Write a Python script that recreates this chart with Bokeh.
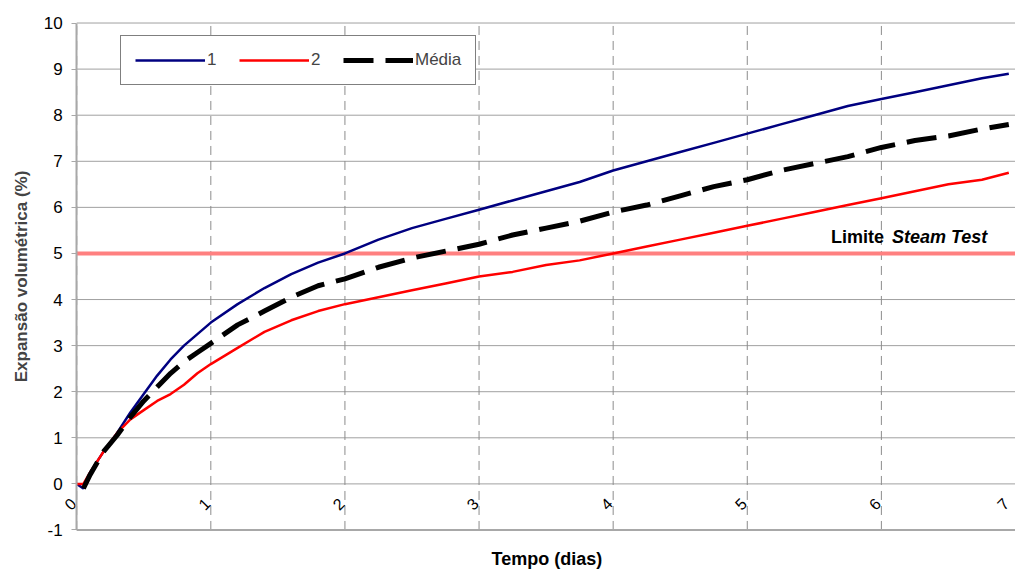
import math
from bokeh.plotting import figure
from bokeh.models import (ColumnDataSource, Label, Legend, LinearAxis, Title,
                          LegendItem, FixedTicker, Range1d)
from bokeh.embed import file_html
from bokeh.resources import INLINE

# ---- data ----
t = [0, 0.05, 0.1, 0.2, 0.3, 0.4, 0.5, 0.6, 0.7, 0.8, 0.9, 1.0, 1.2, 1.4, 1.6,
     1.8, 2.0, 2.25, 2.5, 2.75, 3.0, 3.25, 3.5, 3.75, 4.0, 4.25, 4.5, 4.75,
     5.0, 5.25, 5.5, 5.75, 6.0, 6.25, 6.5, 6.75, 6.95]
serie1 = [0, -0.1, 0.25, 0.7, 1.1, 1.55, 1.95, 2.35, 2.7, 3.0, 3.25, 3.5, 3.9,
          4.25, 4.55, 4.8, 5.0, 5.3, 5.55, 5.75, 5.95, 6.15, 6.35, 6.55, 6.8,
          7.0, 7.2, 7.4, 7.6, 7.8, 8.0, 8.2, 8.35, 8.5, 8.65, 8.8, 8.9]
serie2 = [0, 0.0, 0.25, 0.7, 1.1, 1.4, 1.6, 1.8, 1.95, 2.15, 2.4, 2.6, 2.95,
          3.3, 3.55, 3.75, 3.9, 4.05, 4.2, 4.35, 4.5, 4.6, 4.75, 4.85, 5.0,
          5.15, 5.3, 5.45, 5.6, 5.75, 5.9, 6.05, 6.2, 6.35, 6.5, 6.6, 6.75]
t_media = [0.05, 0.1, 0.2, 0.3, 0.4, 0.5, 0.6, 0.7, 0.8, 0.9, 1.0, 1.2, 1.4,
           1.6, 1.8, 2.0, 2.25, 2.5, 2.75, 3.0, 3.25, 3.5, 3.75, 4.0, 4.25,
           4.5, 4.75, 5.0, 5.25, 5.5, 5.75, 6.0, 6.25, 6.5, 6.75, 6.95]
media = [-0.1, 0.2, 0.7, 1.05, 1.45, 1.8, 2.1, 2.4, 2.65, 2.85, 3.05, 3.45,
         3.75, 4.05, 4.3, 4.45, 4.7, 4.9, 5.05, 5.2, 5.4, 5.55, 5.7, 5.9,
         6.05, 6.25, 6.45, 6.6, 6.8, 6.95, 7.1, 7.3, 7.45, 7.55, 7.7, 7.8]
x_ticks = [0, 1, 2, 3, 4, 5, 6, 7]
x_tick_labels = ["0", "1", "2", "3", "4", "5", "6", "7"]
y_ticks = [-1, 0, 1, 2, 3, 4, 5, 6, 7, 8, 9, 10]
y_tick_labels = ["-1", "0", "1", "2", "3", "4", "5", "6", "7", "8", "9", "10"]
LIMIT = 5
series_names = ["1", "2", "Média"]

FONT = "Liberation Sans"
X_PAD = 0.27   # room left of x = 0 so the tick labels there are not clipped
Y_PAD = 0.25   # room above 10 and below -1 for the same reason

X0, X1 = x_ticks[0], x_ticks[-1]
Y0, Y1 = y_ticks[0], y_ticks[-1]

p = figure(width=1015, height=574, output_backend="svg", toolbar_location=None,
           x_range=Range1d(X0 - X_PAD, X1),
           y_range=Range1d(Y0 - Y_PAD, Y1 + Y_PAD),
           min_border_left=40, min_border_right=0, min_border_top=11,
           min_border_bottom=32)
p.outline_line_color = None
p.background_fill_color = "white"

# grid lines limited to the data area
p.ygrid.visible = False
p.xgrid.visible = False
p.segment(x0=[X0] * len(y_ticks), x1=[X1] * len(y_ticks), y0=y_ticks,
          y1=y_ticks, line_color="#A0A0A0", line_width=1)
p.segment(x0=x_ticks, x1=x_ticks, y0=[Y0] * len(x_ticks),
          y1=[Y1] * len(x_ticks), line_color="#8C8C8C", line_width=1,
          line_dash="9 6")
# bottom axis line at y = -1
p.segment(x0=[X0], x1=[X1], y0=[Y0], y1=[Y0], line_color="#A8A8A8",
          line_width=2)

# left axis: title only
p.yaxis.ticker = FixedTicker(ticks=[])
p.yaxis.axis_line_color = None
p.yaxis.major_tick_line_color = None
p.yaxis.minor_tick_line_color = None
p.yaxis.major_label_standoff = 0
p.yaxis.major_tick_out = 0
p.yaxis.axis_label = "Expansão volumétrica (%)"
p.yaxis.axis_label_text_font = FONT
p.yaxis.axis_label_text_font_size = "17px"
p.yaxis.axis_label_text_font_style = "bold"
p.yaxis.axis_label_standoff = 10

# value axis drawn at x = 0
yval = LinearAxis(ticker=FixedTicker(ticks=y_ticks), fixed_location=X0,
                  bounds=(Y0, Y1),
                  axis_line_color="#A8A8A8", axis_line_width=2,
                  major_tick_line_color="#A8A8A8", major_tick_out=5,
                  major_tick_in=0, minor_tick_line_color=None,
                  major_label_standoff=9, major_label_text_font=FONT,
                  major_label_text_font_size="17px",
                  major_label_text_color="black",
                  major_label_overrides={v: s for v, s in
                                         zip(y_ticks, y_tick_labels)})
p.add_layout(yval, "left")

# default bottom axis not used
p.xaxis.visible = False

# x axis crossing at y = 0, carrying the rotated tick labels
xcross = LinearAxis(ticker=FixedTicker(ticks=x_ticks), fixed_location=0,
                    axis_line_color=None, major_tick_line_color=None,
                    minor_tick_line_color=None, major_label_standoff=8,
                    major_label_orientation=math.pi / 4,
                    major_label_text_font=FONT,
                    major_label_text_font_size="16px",
                    major_label_text_color="black",
                    major_label_overrides={v: s + " " for v, s in
                                           zip(x_ticks, x_tick_labels)})
p.add_layout(xcross, "below")

# x axis title
p.add_layout(Title(text="Tempo (dias)", align="left", offset=451,
                   text_font=FONT, text_font_size="18px",
                   text_font_style="bold", text_color="black", standoff=11),
             "below")

# limit line
p.segment(x0=[X0], x1=[X1], y0=[LIMIT], y1=[LIMIT], line_color="#FF8080",
          line_width=4)

# series
src1 = ColumnDataSource(dict(x=t, y=serie1))
src2 = ColumnDataSource(dict(x=t, y=serie2))
srcm = ColumnDataSource(dict(x=t_media, y=media))
r1 = p.line("x", "y", source=src1, line_color="#000080", line_width=2.5)
r2 = p.line("x", "y", source=src2, line_color="#FF0000", line_width=2.5)
rm = p.line("x", "y", source=srcm, line_color="black", line_width=5,
            line_dash="30 12")

# limit text
p.add_layout(Label(x=6.02, y=LIMIT, y_offset=16, text="Limite",
                   text_align="right", text_baseline="middle", text_font=FONT,
                   text_font_size="18px", text_font_style="bold",
                   text_color="black"))
p.add_layout(Label(x=6.79, y=LIMIT, y_offset=16, text="Steam Test",
                   text_align="right", text_baseline="middle",
                   text_font=FONT, text_font_size="18px",
                   text_font_style="bold italic", text_color="black"))

legend = Legend(items=[LegendItem(label=series_names[0], renderers=[r1]),
                       LegendItem(label=series_names[1], renderers=[r2]),
                       LegendItem(label=series_names[2], renderers=[rm])],
                orientation="horizontal", location=(80, 456), margin=0,
                padding=14, spacing=12, glyph_width=70, glyph_height=20,
                label_standoff=2, label_text_font=FONT,
                label_text_font_size="17px", label_height=20,
                border_line_color="black", border_line_width=1,
                background_fill_alpha=1)
p.add_layout(legend)

open("out.html", "w").write(file_html(p, INLINE))
